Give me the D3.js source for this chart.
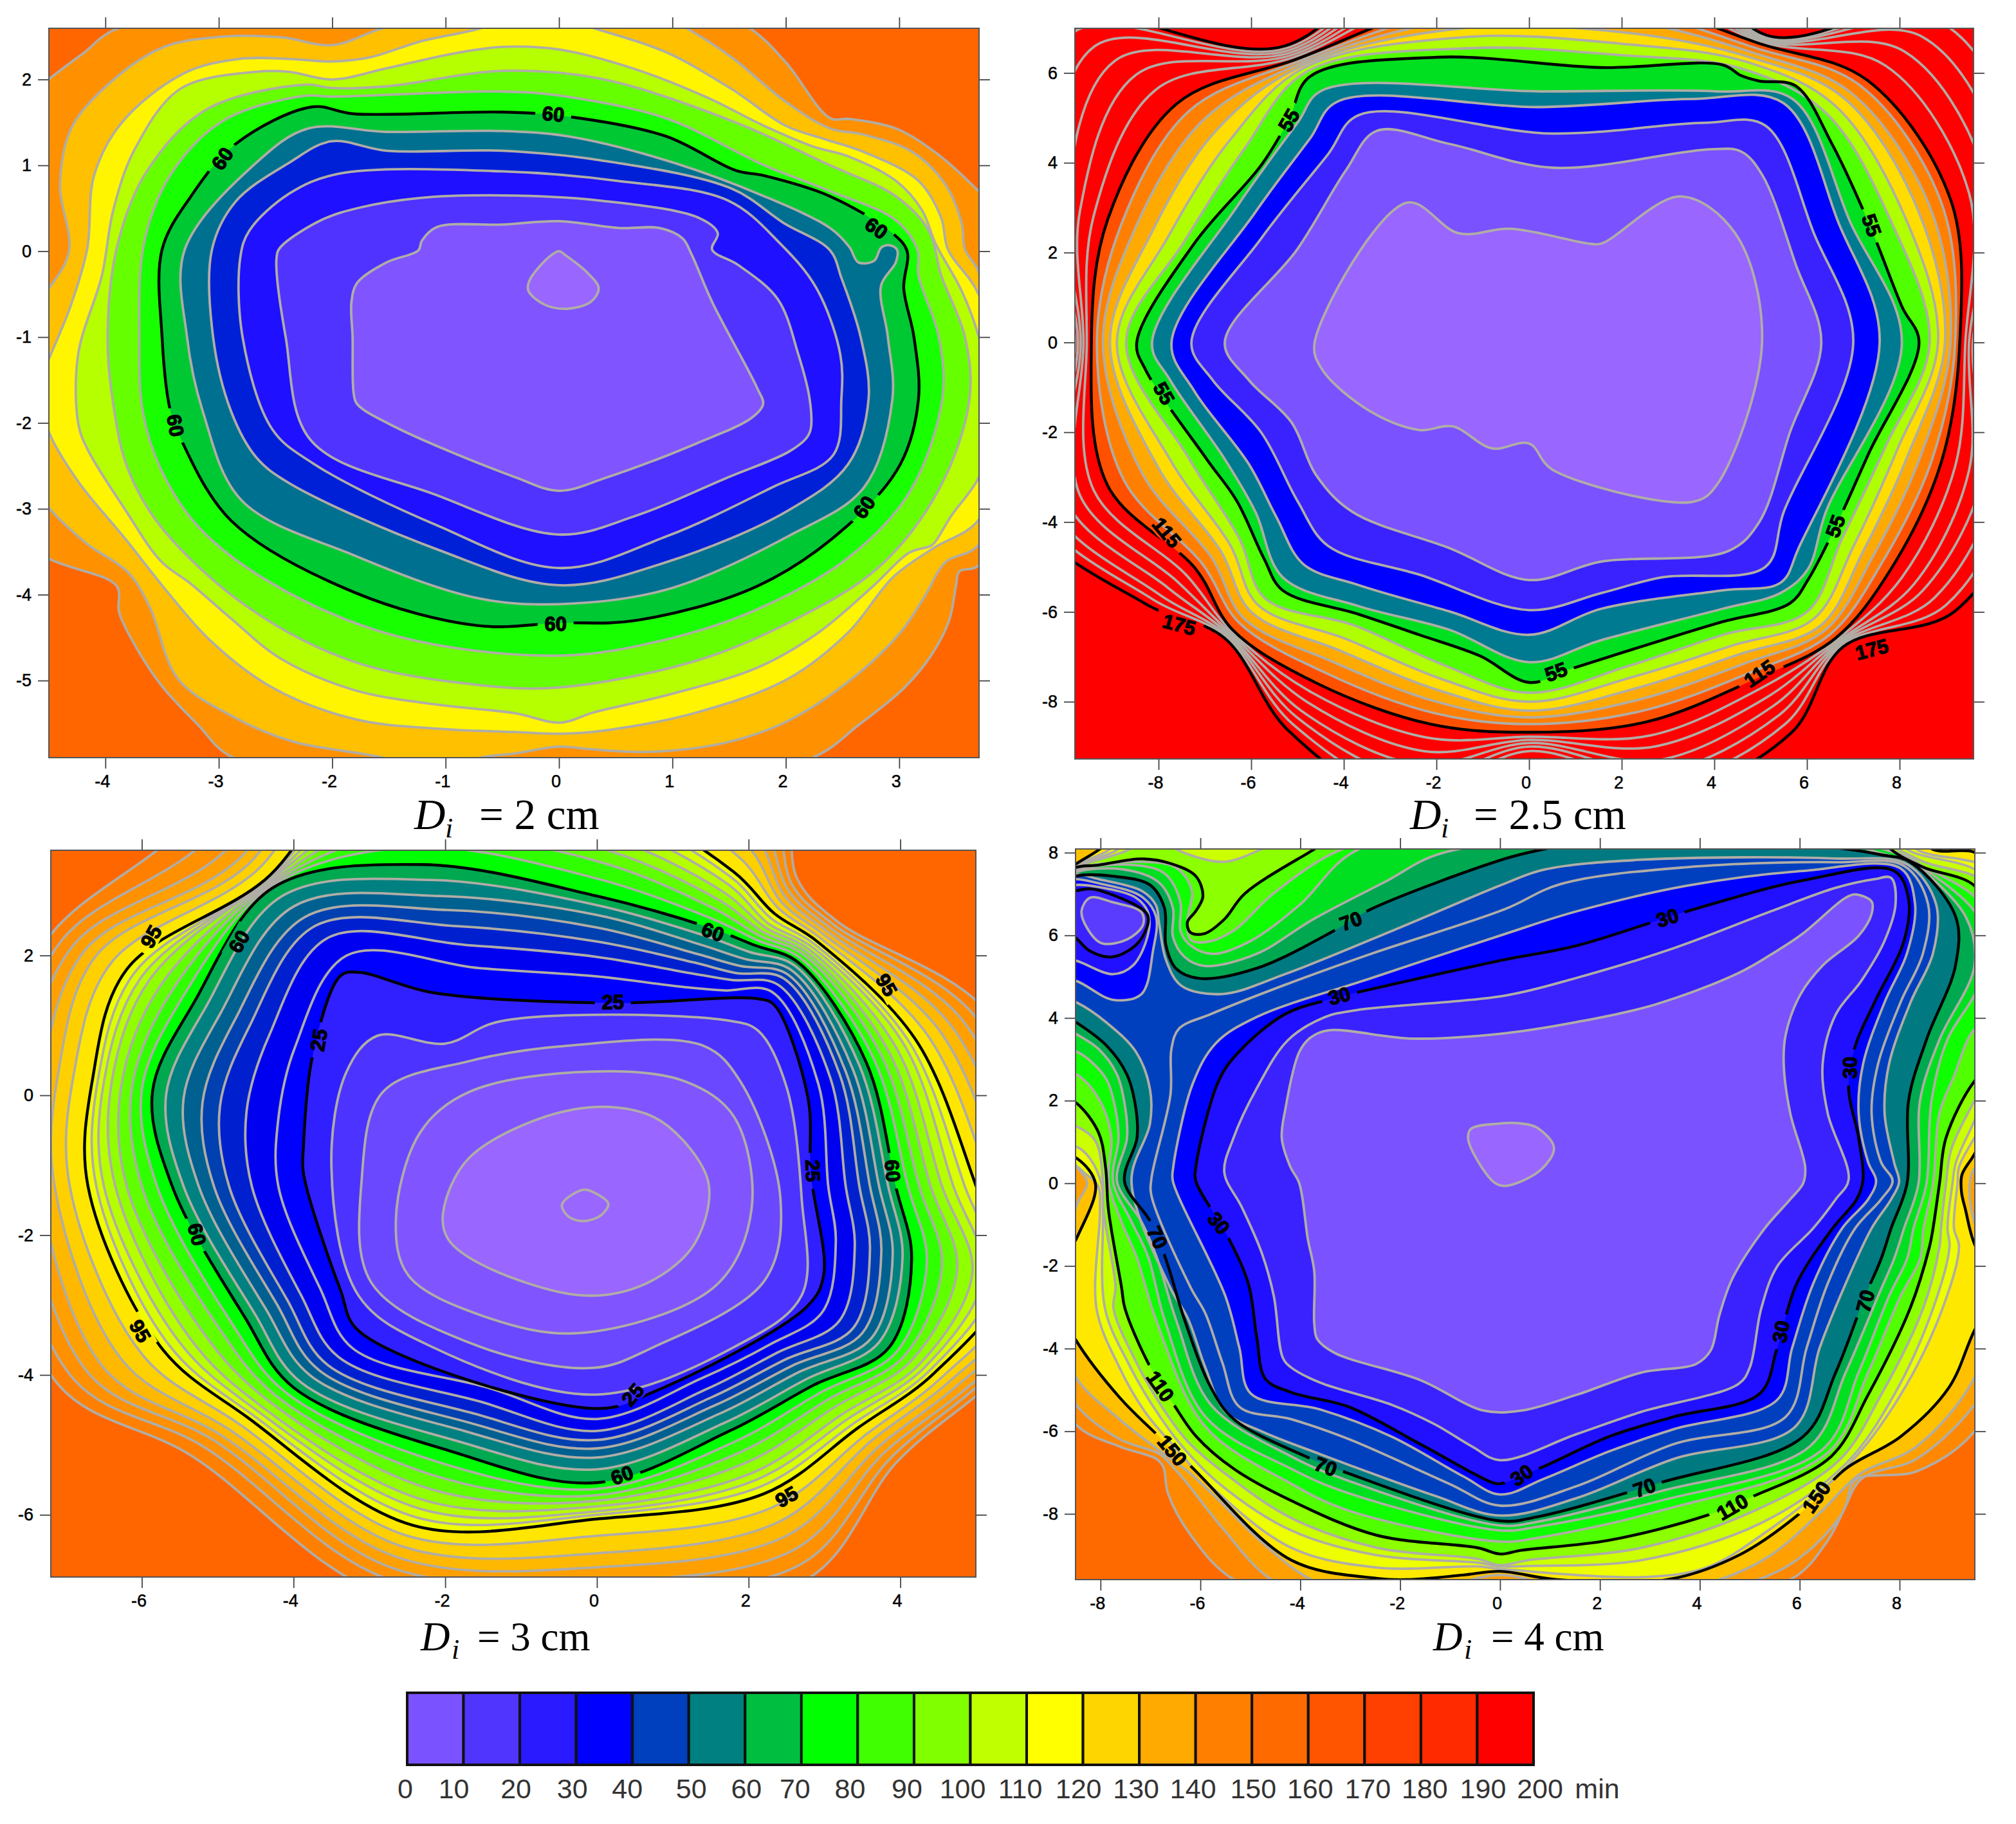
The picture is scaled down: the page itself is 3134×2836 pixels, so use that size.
<!DOCTYPE html>
<html>
<head>
<meta charset="utf-8">
<title>Isochrones</title>
<script src="https://cdn.jsdelivr.net/npm/d3@7"></script>
<style>
    body { margin: 0; background: #fff; }
    text { font-family: "Liberation Sans", Arial, sans-serif; }
</style>
</head>
<body>
<svg id="chart" width="3134" height="2836"></svg>
<script>
// Di = 2 cm
var levelsA = [120, 110, 100, 90, 80, 70, 60, 50, 40, 30, 20, 10, 5];
var contoursA = [
    [[1.68,2.6],[2,2.2],[2.39,1.55],[2.56,1.54],[2.97,1.43],[3.34,1.13],[3.7,.7],[4.2,0],[4.2,-2],[3.7,-3.66],[3.53,-3.73],[3.5,-3.9],[3.44,-4.3],[3.28,-4.71],[3.04,-5.09],[2.63,-5.53],[2.25,-5.89],[0,-6.6],[-2.87,-5.9],[-3.18,-5.52],[-3.51,-5.05],[-3.76,-4.54],[-3.88,-4.2],[-3.9,-3.9],[-4.5,-3.58],[-5.2,-3],[-5.5,-1],[-5.2,1.2],[-4.5,2],[-4.2,2.3],[-3.88,2.6],[-1,3],[1,3]],
    [[1.12,2.6],[1.52,2.26],[2,1.74],[2.39,1.43],[2.68,1.36],[3.11,1.16],[3.4,.79],[3.55,.33],[3.58,.02],[3.7,-.24],[4,-2],[3.7,-3.42],[3.41,-3.62],[3.22,-4.03],[3.01,-4.44],[2.63,-4.93],[2.02,-5.47],[1.48,-5.72],[.81,-5.83],[.28,-5.8],[0,-5.77],[-.39,-5.85],[-.7,-5.9],[-1.1,-6.1],[-1.55,-5.9],[-2.35,-5.71],[-2.89,-5.41],[-3.36,-4.98],[-3.61,-4.14],[-3.8,-3.74],[-4.16,-3.41],[-4.49,-3],[-4.9,-2.2],[-4.9,-1],[-4.48,-.4],[-4.32,.01],[-4.4,.79],[-4.29,1.46],[-3.89,2.04],[-3.48,2.38],[-2.96,2.5],[-2.44,2.49],[-2,2.4],[-1.57,2.59],[-.5,3],[.5,3]],
    [[.3,2.6],[.94,2.32],[1.52,1.89],[2,1.46],[2.33,1.31],[2.68,1.16],[3.17,.82],[3.37,.39],[3.43,.02],[3.7,-.5],[4,-2],[3.7,-3.13],[3.3,-3.46],[2.95,-3.79],[2.55,-4.44],[2.02,-4.98],[1.22,-5.37],[.41,-5.58],[0,-5.62],[-.39,-5.6],[-1.08,-5.56],[-1.8,-5.45],[-2.53,-5.08],[-3.07,-4.54],[-3.47,-3.94],[-3.83,-3.34],[-4.23,-2.7],[-4.49,-2.13],[-4.6,-1.6],[-4.48,-1.2],[-4.31,-.65],[-4.16,.03],[-4.1,.88],[-3.86,1.49],[-3.31,2.07],[-2.82,2.24],[-2.38,2.24],[-2,2.21],[-1.66,2.26],[-1.23,2.44],[-.71,2.59],[-.2,2.8]],
    [[-.5,2.38],[0,2.35],[.65,2.13],[1.29,1.8],[1.81,1.46],[2.24,1.22],[2.56,1.1],[2.97,.82],[3.2,.48],[3.32,.09],[3.55,-.46],[3.7,-.99],[3.85,-2],[3.7,-2.64],[3.46,-3.08],[3.32,-3.38],[3.28,-3.43],[3.09,-3.51],[2.77,-3.9],[2.29,-4.44],[1.75,-4.85],[.95,-5.17],[.31,-5.37],[.01,-5.49],[-.39,-5.38],[-1.08,-5.28],[-1.81,-5.11],[-2.46,-4.74],[-2.89,-4.28],[-3.25,-3.87],[-3.51,-3.61],[-3.83,-3],[-4.16,-2.3],[-4.24,-2],[-4.24,-1.2],[-4.03,-.28],[-3.93,.48],[-3.74,1.19],[-3.34,1.89],[-2.67,2.09],[-2.38,2.09],[-2,2],[-1.52,2.13],[-.94,2.3]],
    [[-.5,2.1],[.36,2.01],[1.52,1.52],[2.39,1],[2.97,.64],[3.26,.24],[3.37,-.28],[3.58,-1],[3.62,-1.72],[3.36,-2.75],[2.82,-3.68],[2.02,-4.33],[1.21,-4.77],[0,-5.08],[-.72,-5.05],[-1.81,-4.78],[-2.75,-4.14],[-3.51,-3.21],[-3.8,-2.54],[-3.92,-1.87],[-3.98,-1],[-3.89,.09],[-3.63,.94],[-3.11,1.65],[-2.24,1.94],[-2,1.9],[-1.52,1.92]],
    [[-.5,1.86],[.07,1.8],[.94,1.55],[1.81,1],[2.39,.7],[2.97,.36],[3.16,.02],[3.17,-.28],[3.35,-1],[3.38,-1.72],[3.09,-2.81],[2.55,-3.57],[1.75,-4.17],[.95,-4.52],[0,-4.71],[-1.44,-4.48],[-2.53,-3.87],[-3.18,-3.21],[-3.51,-2.54],[-3.67,-1.87],[-3.7,-1],[-3.66,.09],[-3.43,.88],[-2.96,1.52],[-2.24,1.81],[-2,1.8]],
    [[-.5,1.62],[.07,1.57],[.94,1.34],[1.56,.94],[1.81,.88],[2.39,.64],[2.94,.21],[3.07,0],[3.04,-.43],[3.13,-1],[3.17,-1.72],[3.01,-2.48],[2.55,-3.19],[1.75,-3.9],[.68,-4.3],[0,-4.33],[-.72,-4.36],[-1.81,-3.97],[-2.89,-3.14],[-3.34,-2.17],[-3.43,-1.84],[-3.5,-1],[-3.5,.02],[-3.25,.63],[-2.85,1.25],[-2.18,1.68],[-1.81,1.6]],
    [[-.5,1.4],[.07,1.34],[.94,1.06],[1.81,.64],[2.39,.27],[2.56,.05],[2.64,-.13],[2.78,-.11],[2.84,.04],[2.91,.07],[2.98,.02],[2.97,-.13],[2.84,-.4],[2.9,-1],[2.94,-1.72],[2.69,-2.75],[2.02,-3.32],[.95,-3.94],[0,-4.11],[-.72,-4.04],[-1.81,-3.54],[-2.8,-2.9],[-3.14,-1.87],[-3.28,-1],[-3.3,.02],[-2.67,1.03],[-2.21,1.43],[-1.52,1.39]],
    [[-.5,1.17],[.36,1.06],[1.52,.73],[1.98,.33],[2.39,.01],[2.49,-.31],[2.66,-1],[2.73,-1.72],[2.55,-2.48],[2.02,-3.02],[.95,-3.62],[0,-3.89],[-1.08,-3.47],[-2.38,-2.7],[-2.67,-2.4],[-2.89,-1.87],[-3.05,-1],[-3.06,.02],[-2.85,.58],[-2.38,1.03],[-2.01,1.28],[-1.52,1.17]],
    [[-.5,.93],[.51,.82],[1.49,.59],[1.95,.09],[2.27,-.43],[2.48,-1.2],[2.49,-1.72],[2.42,-2.37],[1.88,-2.75],[.95,-3.32],[0,-3.69],[-1.08,-3.19],[-2.17,-2.47],[-2.53,-2.07],[-2.79,-1],[-2.81,-.07],[-2.73,.24],[-2.38,.67],[-1.95,.9]],
    [[-.5,.65],[.36,.59],[1.23,.39],[1.4,.21],[1.35,.02],[1.58,-.16],[1.93,-.56],[2.11,-1.2],[2.21,-1.72],[2.22,-2.07],[2.18,-2.18],[2.02,-2.34],[1.48,-2.64],[.68,-3.08],[0,-3.3],[-1.08,-2.84],[-2.19,-2.2],[-2.41,-1],[-2.49,-.07],[-2.46,.04],[-2.1,.36],[-1.75,.51],[-1.23,.62]],
    [[-.5,.31],[0,.35],[.54,.27],[.89,.27],[1.09,.15],[1.17,-.04],[1.35,-.59],[1.75,-1.6],[1.8,-1.78],[1.7,-1.94],[1.21,-2.24],[.41,-2.64],[0,-2.79],[-.39,-2.63],[-1.44,-2.05],[-1.78,-1.78],[-1.81,-1.66],[-1.82,-1],[-1.83,-.59],[-1.78,-.37],[-1.52,-.13],[-1.24,.01],[-1.21,.12],[-1.08,.28]],
    [[0,0],[-.09,-.07],[-.26,-.34],[-.27,-.46],[-.13,-.62],[.07,-.67],[.28,-.59],[.35,-.43],[.25,-.25],[.06,-.05]]
];

// Di = 2.5 cm: the inner contours by hand, the outer ones along rays from the origin
var innerLevelsB = [55, 45, 35, 25, 15, 5];
var innerContoursB = [
    [[-8.47,0],[-8.28,-.61],[-6.96,-2.6],[-6.31,-3.53],[-5.72,-4.82],[-5.32,-5.52],[-3.69,-6.05],[-2.37,-6.51],[-1.06,-6.98],[0,-7.57],[.9,-7.27],[2.87,-6.63],[4.18,-6.22],[5.63,-5.81],[6.02,-5.29],[6.61,-4.12],[7.33,-2.48],[8.42,0],[8.05,.8],[7.33,2.67],[6.54,4.42],[5.76,5.71],[4.97,5.82],[4.58,5.94],[4.18,6.18],[1.56,6.12],[-1.98,6.35],[-4.73,5.92],[-5.19,4.95],[-5.78,3.95],[-7.23,2.2]],
    [[-8.14,0],[-7.75,-.84],[-6.57,-2.6],[-5.91,-3.77],[-5.32,-5.23],[-3.69,-5.87],[-1.72,-6.4],[0,-7.12],[1.56,-6.63],[4.18,-5.93],[5.43,-5.58],[6.02,-5.05],[6.41,-3.77],[8.05,0],[6.94,2.67],[5.69,5.42],[4.05,5.59],[.25,5.59],[-4.47,5.61],[-5,4.89],[-6.31,3.02]],
    [[-7.72,0],[-7.23,-1.08],[-6.05,-2.71],[-5.46,-3.88],[-4.87,-4.94],[-3.69,-5.4],[-1.72,-5.99],[0,-6.51],[1.56,-5.93],[4.18,-5.52],[5.43,-5.35],[5.82,-4.58],[7.57,0],[6.68,2.67],[5.49,5.33],[3.53,5.42],[.25,5.24],[-4.14,5.36],[-4.73,4.54],[-5.91,2.9]],
    [[-7.29,0],[-6.83,-.84],[-5.78,-2.01],[-5,-3.53],[-4.34,-4.53],[-2.37,-5.17],[0,-5.96],[1.56,-5.58],[2.87,-5.23],[5.1,-5],[5.5,-3.77],[7,0],[6.15,2.43],[5.1,4.83],[3.79,4.89],[.51,4.65],[-3.68,5.06],[-4.34,4.19],[-5.78,2.32]],
    [[-6.57,0],[-6.05,-.84],[-5.13,-1.78],[-4.6,-2.95],[-3.82,-3.77],[-1.72,-4.58],[0,-5.29],[1.56,-4.88],[4.31,-4.64],[4.97,-4],[5.63,-2.01],[6.31,0],[5.76,1.73],[5.04,3.72],[4.58,4.25],[3.92,4.3],[.51,3.89],[-1.72,4.42],[-3.29,4.71],[-3.95,3.84],[-5,2.08]],
    [[-4.63,0],[-4.47,-.6],[-3.42,-1.54],[-2.37,-1.95],[-1.65,-1.87],[-.8,-2.36],[0,-2.25],[.5,-2.83],[3.53,-3.55],[4.05,-3.18],[5.03,0],[4.45,2.43],[3.27,3.25],[1.56,2.2],[1.3,2.2],[-.4,2.53],[-1.52,2.43],[-2.64,3.11]]
];
var outerLevelsB = [65, 75, 85, 95, 105, 115, 125, 135, 145, 155, 165, 175];
var raysB = [[1,0],[1,.35],[1,.8],[.75,1],[.3,1],[-.2,1],[-.8,1],[-1,.7],[-1,.3],[-1,0],[-1,-.35],[-1,-.7],[-1,-1],[-.6,-1],[-.25,-1],[0,-1],[.3,-1],[.65,-1],[1,-1],[1,-.65],[1,-.3]];
var radiiB = [
    [8.65,8.83,8.98,9.1,9.2,9.3,9.42,9.5,9.58,9.65,9.72,9.8],
    [7.8,8.1,8.4,8.65,8.9,9.1,9.5,9.9,10.3,10.7,11.1,11.5],
    [6.4,6.6,6.8,6.95,7.15,7.3,7.7,8.1,8.5,8.9,9.3,9.7],
    [6.1,6.25,6.35,6.45,6.55,6.65,6.69,6.72,6.75,6.78,6.81,6.84],
    [6.4,6.65,6.9,7.15,7.35,7.55,7.9,8.2,8.5,8.8,9.1,9.4],
    [6.55,6.8,7,7.2,7.4,7.6,8,8.3,8.6,8.9,9.2,9.5],
    [6.02,6.1,6.15,6.2,6.25,6.3,6.35,6.4,6.45,6.5,6.55,6.6],
    [6.15,6.45,6.75,7.05,7.35,7.6,8.05,8.5,8.95,9.4,9.85,10.3],
    [7.45,7.8,8.15,8.5,8.8,9.1,9.4,9.7,10,10.3,10.6,10.9],
    [8.7,8.9,9.05,9.2,9.33,9.45,9.55,9.62,9.68,9.74,9.8,9.86],
    [7.35,7.7,8,8.35,8.75,9.1,9.4,9.7,10,10.3,10.55,10.8],
    [6.25,6.45,6.65,6.85,7.05,7.2,7.4,7.6,7.8,8,8.15,8.3],
    [5.7,5.85,6,6.15,6.25,6.4,6.43,6.46,6.49,6.52,6.55,6.58],
    [6.3,6.6,6.85,7.1,7.35,7.6,7.8,8,8.2,8.35,8.5,8.65],
    [7.2,7.5,7.75,8,8.25,8.5,8.8,9.1,9.4,9.7,10,10.3],
    [7.8,8,8.2,8.35,8.5,8.68,8.78,8.85,8.92,9,9.1,9.3],
    [7.2,7.45,7.7,7.95,8.2,8.45,8.75,9,9.3,9.55,9.8,10.05],
    [6.5,6.75,6.95,7.15,7.35,7.5,7.7,7.9,8.1,8.3,8.5,8.7],
    [6,6.15,6.3,6.4,6.5,6.6,6.63,6.66,6.69,6.72,6.75,6.78],
    [6.75,7,7.2,7.4,7.6,7.8,8.05,8.3,8.5,8.75,9,9.2],
    [7.7,7.95,8.2,8.45,8.7,8.9,9.2,9.5,9.8,10.1,10.4,10.7]
];

// Di = 3 cm: rays from (0, -1.3)
var outerLevelsC = [30, 35, 40, 45, 50, 55, 60, 65, 70, 75, 80, 85, 90, 95, 100, 105, 110, 115, 120, 125];
var raysC = [[1,0],[1,.5],[.83,1],[.6,1],[.4,1],[0,1],[-.5,1],[-1,1],[-1,.5],[-1,.23],[-1,0],[-1,-.4],[-1,-.72],[-.5,-1],[0,-1],[.5,-1],[1,-1],[1,-.6],[1,-.25]];
var radiiC = [
    [3.05,3.28,3.46,3.6,3.72,3.84,3.94,4.1,4.25,4.4,4.55,4.7,4.85,5,5.2,5.4,5.6,5.8,6,6.3],
    [2.92,3.08,3.2,3.28,3.37,3.46,3.55,3.65,3.75,3.85,3.95,4.05,4.12,4.2,4.35,4.5,4.65,4.8,4.95,5.1],
    [2.78,2.88,2.97,3.03,3.09,3.15,3.2,3.25,3.3,3.34,3.38,3.42,3.46,3.5,3.55,3.6,3.65,3.7,3.75,3.8],
    [2.8,2.95,3.05,3.15,3.25,3.35,3.45,3.52,3.58,3.64,3.7,3.76,3.83,3.9,3.98,4.06,4.14,4.22,4.3,4.4],
    [2.85,3.05,3.2,3.32,3.45,3.58,3.7,3.82,3.95,4.08,4.2,4.32,4.42,4.5,4.7,4.9,5.1,5.3,5.6,6],
    [3,3.28,3.5,3.7,3.88,4.02,4.15,4.4,4.65,4.85,5.05,5.25,5.45,5.6,5.9,6.2,6.5,6.8,7.1,7.4],
    [3.12,3.45,3.72,3.95,4.15,4.38,4.6,4.85,5.05,5.25,5.45,5.65,5.85,6,6.3,6.6,6.9,7.2,7.5,7.8],
    [3.3,3.55,3.72,3.85,4,4.15,4.27,4.29,4.31,4.33,4.35,4.36,4.37,4.38,4.5,4.6,4.7,4.85,5.05,5.3],
    [3.98,4.32,4.58,4.77,4.96,5.15,5.3,5.45,5.6,5.75,5.9,6,6.1,6.2,6.4,6.6,6.75,6.9,7.05,7.2],
    [4.2,4.62,4.97,5.2,5.45,5.68,5.86,6,6.13,6.27,6.4,6.5,6.58,6.65,6.9,7.1,7.3,7.5,7.7,8],
    [4.2,4.55,4.85,5.05,5.25,5.45,5.6,5.8,6,6.2,6.35,6.5,6.6,6.71,6.95,7.15,7.35,7.55,7.8,8],
    [3.65,3.9,4.08,4.22,4.37,4.52,4.65,4.83,5,5.2,5.38,5.52,5.65,5.75,6,6.25,6.5,6.7,6.9,7.1],
    [3.22,3.4,3.55,3.66,3.77,3.9,4,4.1,4.2,4.3,4.4,4.47,4.54,4.6,4.72,4.84,4.95,5.05,5.18,5.35],
    [2.88,3.08,3.25,3.38,3.5,3.65,3.8,3.98,4.16,4.34,4.5,4.62,4.74,4.85,5,5.15,5.3,5.45,5.6,5.8],
    [3.33,3.5,3.63,3.75,3.88,4.05,4.24,4.33,4.42,4.5,4.58,4.65,4.7,4.76,5,5.25,5.45,5.65,5.85,6.1],
    [2.75,2.9,3.02,3.13,3.25,3.38,3.5,3.65,3.8,3.95,4.1,4.2,4.3,4.4,4.6,4.8,5,5.2,5.4,5.6],
    [2.27,2.38,2.48,2.57,2.66,2.76,2.85,2.95,3.05,3.15,3.25,3.32,3.39,3.45,3.55,3.63,3.72,3.8,3.88,3.95],
    [2.98,3.2,3.38,3.5,3.62,3.72,3.85,3.95,4.05,4.15,4.25,4.32,4.39,4.45,4.55,4.65,4.75,4.85,4.92,5],
    [3.15,3.4,3.6,3.75,3.9,4.03,4.15,4.35,4.55,4.75,4.95,5.1,5.25,5.4,5.6,5.8,6,6.2,6.4,6.6]
];
var innerLevelsC = [25, 20, 15, 10, 5, 2];
var innerContoursC = [
    [[-3.87,-.75],[-3.75,.56],[-3.38,1.71],[-3.14,1.76],[-2.17,1.47],[.19,1.32],[2.13,1.38],[2.34,1.29],[2.78,-.02],[2.82,-1.11],[2.99,-2.57],[2.78,-3.01],[.75,-4.24],[-.02,-4.48],[-3.14,-3.37],[-3.38,-2.79],[-3.87,-1.11]],
    [[-3.5,-1.04],[-3.3,.34],[-2.9,.85],[-2,.74],[-1.27,1.06],[1.73,1.07],[2.13,.92],[2.5,.12],[2.7,-1.48],[2.7,-2.86],[1.81,-3.6],[-.02,-4.28],[-2.17,-3.6],[-3.14,-2.87]],
    [[-3.1,-1.19],[-2.82,.05],[-1.68,.49],[-.38,.71],[1.4,.71],[1.89,.2],[2.42,-1.48],[2.21,-2.65],[.75,-3.6],[-.06,-3.9],[-1.68,-3.54],[-2.98,-2.67]],
    [[-2.65,-1.77],[-2.33,-.53],[-1.68,.05],[-.06,.34],[1.16,.2],[1.81,-.31],[2.04,-1.62],[1.57,-2.72],[-.22,-3.4],[-1.52,-3.15],[-2.49,-2.57]],
    [[-2.03,-1.7],[-1.68,-.89],[-.3,-.2],[.75,-.31],[1.4,-1.04],[1.48,-1.48],[1.24,-2.2],[.59,-2.72],[-.22,-2.86],[-1.52,-2.42],[-1.96,-2.06]],
    [[-.46,-1.56],[-.18,-1.35],[-.02,-1.4],[.15,-1.55],[.06,-1.71],[-.18,-1.8],[-.38,-1.73]]
];

// Di = 4 cm
var levelsD = [180, 170, 160, 150, 140, 130, 120, 110, 100, 90, 80, 70, 60, 50, 50, 40, 40, 30, 30, 20, 20, 10, 5];
var contoursD = [
    [[9.5,-6],[8.34,-6.97],[7.11,-7.18],[6.92,-7.8],[6.53,-8.7],[5.81,-9.59],[2,-10.4],[-3,-10.4],[-5.33,-9.59],[-6.19,-8.52],[-6.65,-7.5],[-6.74,-6.87],[-6.88,-6.67],[-7.62,-6.37],[-8.49,-5.84],[-9.2,-4],[-9.2,8.6],[10.2,8.6],[10.2,-4]],
    [[9.5,-5.36],[8.34,-6.67],[7.24,-7.15],[6.79,-8.1],[6.07,-9],[5.16,-9.59],[2,-10.3],[-3,-10.3],[-4.58,-9.59],[-5.56,-8.34],[-6.3,-7.21],[-6.56,-6.85],[-6.82,-6.55],[-7.62,-6.19],[-8.49,-5.36],[-9.1,-4],[-9.1,8.5],[10.1,8.5],[10.1,-4]],
    [[9.5,-4.7],[8.34,-6.37],[7.21,-7.03],[6.4,-7.98],[5.42,-9],[4.39,-9.59],[2.5,-10],[1.2,-9.78],[0,-9.48],[-1.2,-9.78],[-2.6,-10],[-3.78,-9.59],[-4.76,-8.7],[-5.62,-7.68],[-6.25,-6.97],[-6.53,-6.73],[-7.62,-5.71],[-8.49,-4.7],[-9,-3],[-8.47,-.51],[-8.27,.01],[-8.47,.4],[-9,1.5],[-9,8.4],[10,8.4],[10,.5],[9.5,.35],[9.4,-.2],[9.5,-.95],[10,-2.5]],
    [[9.5,.71],[9.25,.21],[9.24,-.21],[9.32,-.64],[9.5,-1.47],[10,-2.5],[9.5,-3.56],[8.99,-4.94],[8.02,-6.13],[6.92,-6.91],[6.07,-7.92],[4.78,-9],[3.35,-9.59],[1.14,-9.59],[0,-9.39],[-.74,-9.48],[-1.88,-9.59],[-2.46,-9.56],[-4.18,-9.12],[-6.19,-6.85],[-6.88,-6.07],[-7.62,-5.18],[-8.49,-3.8],[-9,-2.5],[-8.47,-1.31],[-8.1,-.02],[-8.47,.6],[-9,.8],[-9,7.3],[-8.5,7.72],[-8.01,8.09],[-7.5,8.6],[8.2,8.6],[8.67,8.08],[9.5,8.01],[10,7.5],[10,2]],
    [[9.5,1.1],[9.19,.39],[9.16,0],[9.09,-1.09],[9.19,-1.53],[8.86,-3.03],[8.02,-5.12],[6.95,-6.85],[5.3,-8.46],[4.13,-9.3],[2.83,-9.53],[0,-9.33],[-.45,-9.27],[-2.46,-9.3],[-4.18,-8.82],[-5.79,-7.33],[-6.48,-6.43],[-7.11,-5.53],[-7.62,-4.46],[-8.08,-3.03],[-8.01,-.65],[-8.05,-.06],[-8.33,.26],[-8.47,.4],[-9,.5],[-9,7.3],[-8.5,7.7],[-7.81,8.09],[-7.5,8.6],[8,8.6],[8.34,8.08],[9.5,7.77],[10,7.5],[10,2]],
    [[9.5,1.52],[9.13,.51],[9.06,0],[8.96,-1.09],[9,-1.53],[8.67,-3.03],[7.89,-5.12],[6.92,-6.79],[5.23,-8.22],[2.83,-9.12],[.56,-9.26],[0,-9.27],[-.45,-9.18],[-2.46,-9],[-4.18,-8.4],[-5.62,-7.27],[-6.36,-6.37],[-6.94,-5.41],[-7.45,-4.34],[-7.91,-3.03],[-7.95,-.65],[-7.98,-.02],[-8.21,.6],[-8.47,.88],[-9,1],[-9,7.3],[-8.5,7.68],[-7.64,8.09],[-7.3,8.6],[7.8,8.6],[8.15,8.08],[9.5,7.6],[10,7],[10,3]],
    [[8.55,7.75],[9.5,7.44],[10,7],[10,3],[9.5,2],[9.03,.8],[8.93,0],[8.83,-1.09],[8.8,-1.53],[8.47,-3.03],[7.63,-5.12],[6.79,-6.7],[5.1,-7.92],[2.83,-8.82],[.56,-9.12],[0,-9.24],[-.45,-9.09],[-2.46,-8.82],[-4.18,-8.1],[-5.5,-7.03],[-6.25,-6.25],[-6.77,-5.41],[-7.28,-4.34],[-7.74,-3.03],[-7.7,-2.51],[-7.94,-.65],[-7.95,.05],[-8.1,1.02],[-8.47,1.37],[-9,1.5],[-9,7.3],[-8.5,7.65],[-7.41,8.09],[-7,8.5],[-6.49,8.09],[-6.15,7.92],[-5.52,7.78],[-4.77,8.09],[-4,8.6],[7,8.6],[7.96,8.08]],
    [[7.83,8.08],[8.47,7.65],[9.5,7.2],[10,6],[10,3],[9.5,2.47],[8.93,1.1],[8.8,0],[8.67,-1.09],[8.6,-1.53],[8.21,-3.03],[7.37,-5.12],[6.63,-6.61],[5.04,-7.59],[4.13,-8.04],[2.18,-8.64],[.43,-8.88],[0,-8.97],[-.45,-8.82],[-2.46,-8.52],[-4.18,-7.68],[-5.33,-6.91],[-6.08,-6.13],[-6.53,-5.36],[-7.05,-4.34],[-7.51,-3.03],[-7.58,-2.51],[-7.84,-.65],[-7.9,.4],[-8.04,1.23],[-8.47,1.93],[-8.9,2.2],[-8.9,7.3],[-8.5,7.64],[-8.04,7.7],[-7.18,7.85],[-6.6,7.74],[-6.09,7.43],[-5.95,6.94],[-6.09,6.59],[-6.26,6.32],[-6.2,6.07],[-5.92,6.04],[-5.52,6.39],[-5.11,7.01],[-3.71,8.09],[-3,8.6],[7.5,8.6]],
    [[8.41,7.71],[9.5,6.94],[10,6],[10,4],[9.5,3.72],[9.09,2.59],[8.8,1.7],[8.67,0],[8.48,-1.09],[8.41,-1.83],[8.02,-2.73],[7.37,-4.58],[6.56,-6.52],[3.22,-7.92],[.75,-8.58],[0,-8.67],[-3.03,-7.92],[-4.18,-7.27],[-5.9,-5.89],[-6.88,-3.33],[-7.28,-1.77],[-7.58,-.93],[-7.84,.05],[-7.78,1.09],[-7.93,1.79],[-8.21,2.35],[-8.47,2.63],[-8.8,2.8],[-8.8,7.3],[-8.49,7.6],[-7.29,7.78],[-6.49,7.64],[-6.17,7.08],[-6.26,6.38],[-6.2,5.9],[-5.92,5.83],[-5.34,6.11],[-4.54,7.01],[-3.15,8.09],[-1,8.6],[5,8.6],[7.76,8.08],[8.31,7.8]],
    [[8.34,7.74],[9.5,6.58],[9.8,5.5],[9.5,4.56],[8.96,3.48],[8.64,2],[8.54,0],[8.28,-1.09],[8.15,-1.83],[7.79,-2.73],[7.18,-4.58],[6.47,-6.43],[3.22,-7.68],[.75,-8.31],[0,-8.4],[-3.03,-7.5],[-4.18,-6.91],[-5.9,-5.65],[-6.71,-3.33],[-7.05,-1.77],[-7.38,-.93],[-7.75,.05],[-7.64,1.09],[-7.7,1.79],[-7.87,2.49],[-8.21,2.97],[-8.47,3.18],[-8.8,3.3],[-8.8,7.3],[-8.49,7.57],[-7.47,7.71],[-6.72,7.5],[-6.4,6.8],[-6.4,6.11],[-6.2,5.76],[-5.75,5.55],[-5,5.86],[-4.02,6.73],[-2.87,8.06],[0,8.6],[6,8.6],[7.7,8.08],[8.22,7.83]],
    [[8.28,7.74],[9.32,6.46],[9.5,5.27],[8.8,3.48],[8.41,2],[8.38,0],[8.09,-1.09],[7.89,-1.83],[7.57,-2.73],[6.92,-4.58],[6.2,-6.37],[3.22,-7.45],[.75,-8.19],[0,-8.28],[-3.03,-7.2],[-4.18,-6.61],[-5.79,-5.36],[-6.48,-3.33],[-6.88,-1.77],[-7.18,-.93],[-7.67,.05],[-7.47,1.09],[-7.5,1.79],[-7.67,2.63],[-8.04,3.25],[-8.47,3.6],[-8.8,3.8],[-8.8,7.3],[-8.49,7.53],[-7.58,7.6],[-6.84,7.29],[-6.55,6.66],[-6.55,5.97],[-6.32,5.48],[-5.92,5.26],[-4.88,5.55],[-3.74,6.39],[-2.31,7.29],[-1.16,7.99],[3,8.5],[6.5,8.5],[7.37,8.08],[8.09,7.83]],
    [[8.22,7.77],[9.12,6.46],[9.12,5.27],[8.54,3.48],[8.18,2],[8.15,0],[7.83,-1.09],[7.63,-1.83],[7.31,-2.73],[6.72,-4.58],[6.07,-6.13],[3.22,-7.24],[.75,-8.07],[0,-8.17],[-3.15,-6.97],[-3.89,-6.61],[-5.33,-5.71],[-5.79,-4.94],[-6.31,-3.33],[-6.71,-1.77],[-7,-.93],[-7.52,.05],[-7.27,1.09],[-7.29,1.79],[-7.47,2.63],[-7.87,3.32],[-8.47,3.88],[-8.8,4.1],[-8.8,7.2],[-8.49,7.43],[-7.75,7.43],[-7.01,7.22],[-6.72,6.66],[-6.69,5.76],[-6.49,5.2],[-6.03,4.96],[-4.88,5.2],[-3.28,6.14],[-2.59,6.63],[.09,7.85],[.82,8.07],[3,8.5],[6.85,8.1],[7.63,7.95]],
    [[8.15,7.72],[8.73,6.76],[8.67,5.57],[8.22,4.38],[7.79,2.89],[7.7,1.7],[7.89,.51],[7.99,.03],[7.83,-.39],[7.44,-1.09],[6.92,-2.43],[6.4,-3.98],[5.91,-5.89],[3.48,-6.67],[1.53,-7.62],[0,-8.04],[-1.31,-7.56],[-3.61,-6.55],[-4.76,-6.01],[-5.5,-5.53],[-5.9,-4.46],[-6.25,-3.27],[-6.61,-2.51],[-7.38,.05],[-7.01,1.44],[-7.01,2.28],[-7.29,3.18],[-7.87,3.88],[-8.47,4.37],[-8.8,4.5],[-8.8,7.3],[-8.49,7.47],[-8.04,7.36],[-7.18,7.08],[-6.89,6.73],[-6.83,6.32],[-6.69,5.41],[-6.38,4.78],[-5.57,4.58],[-4.31,5.06],[-2.02,6.18],[.09,7.25],[.88,7.59],[2.83,7.83],[6.72,7.86]],
    [[8.09,7.68],[8.57,6.76],[8.47,5.57],[8.02,4.38],[7.57,2.89],[7.44,1.7],[7.63,.51],[7.86,.06],[7.63,-.39],[7.11,-1.09],[6.56,-2.43],[6.14,-3.98],[5.72,-5.65],[3.48,-6.31],[1.53,-7.33],[0,-7.8],[-1.02,-7.27],[-3.03,-6.19],[-4.18,-5.71],[-5.22,-5.41],[-5.56,-4.34],[-5.9,-3.15],[-6.2,-2.51],[-6.98,-.3],[-6.98,.12],[-6.6,2.14],[-6.58,3.25],[-6.43,3.74],[-5.8,4.09],[-4.31,4.8],[-2.59,5.55],[.09,6.63],[1.21,7.24],[3.74,7.65],[6.72,7.77]],
    [[-8.47,4.89],[-7.75,4.44],[-7.18,4.58],[-6.95,5.62],[-6.89,6.46],[-7.18,6.94],[-8.04,7.26],[-8.49,7.36],[-8.9,7.3],[-8.9,5]],
    [[8.02,7.62],[8.31,6.76],[8.15,5.57],[7.7,4.38],[7.27,2.89],[7.18,1.7],[7.37,.51],[7.53,.06],[7.37,-.39],[6.85,-1.09],[6.27,-2.43],[5.85,-3.98],[5.55,-5.24],[3.48,-5.95],[2.18,-6.49],[.88,-7.15],[0,-7.53],[-.74,-7.09],[-2.17,-6.13],[-3.61,-5.47],[-4.99,-5.09],[-5.22,-3.98],[-5.5,-2.73],[-6.55,.05],[-6.55,.33],[-6.15,2.42],[-5.69,3.39],[-4.88,4.02],[-2.59,4.96],[.09,6.03],[1.53,6.58],[3.74,7.2],[6.07,7.56]],
    [[-8.47,5.38],[-7.75,5.06],[-7.35,5.27],[-7.06,5.97],[-7.04,6.53],[-7.29,6.91],[-8.04,7.17],[-8.49,7.22],[-8.9,7.1],[-8.9,5.5]],
    [[7.89,7.56],[8.18,6.88],[8.09,5.87],[7.5,4.38],[7.11,3.31],[6.98,2.29],[7.18,1.1],[7.27,.09],[7.14,-.39],[6.66,-1.09],[5.94,-2.43],[5.55,-3.98],[5.2,-5.09],[3.48,-5.65],[2.18,-6.13],[.88,-6.85],[0,-7.27],[-.16,-7.24],[-1.6,-6.31],[-3.03,-5.41],[-4.18,-5.06],[-4.7,-4.73],[-4.87,-3.74],[-5.04,-2.43],[-5.46,-1.27],[-6.09,.05],[-6.09,.4],[-5.63,2.49],[-5.23,3.18],[-4.31,4.09],[-3.45,4.44],[-2.02,4.85],[.09,5.41],[1.53,5.75],[3.74,6.58],[6.07,7.33]],
    [[-8.49,7.08],[-8.15,7.12],[-7.12,6.59],[-7.04,6.39],[-7.24,5.83],[-7.75,5.48],[-8.21,5.62],[-8.49,5.93],[-8.9,6.3],[-8.9,7]],
    [[7.83,7.39],[7.92,6.76],[7.7,5.87],[7.24,4.91],[6.72,4.08],[6.46,2.89],[6.56,1.7],[6.98,.09],[6.72,-.39],[6.27,-1.09],[5.55,-2.01],[5.23,-3.03],[5,-4.46],[4.78,-4.85],[2.83,-5.53],[1.53,-6.07],[0,-6.7],[-.56,-6.37],[-1.31,-5.83],[-2.17,-5.36],[-3.61,-4.82],[-4.18,-4.46],[-4.35,-4.22],[-4.53,-2.73],[-4.77,-1.69],[-5.17,-.58],[-5.52,.26],[-5.34,1.09],[-4.88,2.28],[-4.25,3.46],[-3.51,4.02],[-2.88,4.19],[.09,4.54],[1.53,4.97],[3.48,5.69],[5.42,6.58],[6.72,7.15],[7.5,7.36]],
    [[-8.38,6.59],[-8.21,6.91],[-7.75,6.8],[-7.18,6.56],[-7.15,6.25],[-7.47,5.9],[-7.98,5.81],[-8.27,6.18]],
    [[6.92,6.91],[7.11,6.99],[7.44,6.82],[7.44,6.52],[7.18,5.99],[6.46,5.27],[6.01,4.56],[5.72,3.6],[5.68,2.89],[5.81,1.7],[6.11,.39],[6.07,0],[5.81,-.39],[5.3,-1.09],[4.65,-2.31],[4.39,-3.2],[4.22,-4.04],[3.93,-4.37],[2.83,-4.58],[1.53,-5.12],[.43,-5.5],[-.33,-5.5],[-1.6,-4.76],[-3.32,-4.1],[-3.66,-3.77],[-3.72,-3.39],[-3.72,-2.13],[-3.85,-1.34],[-4.02,0],[-4.2,.4],[-4.37,1.09],[-4.3,1.79],[-4.02,3.18],[-3.79,3.53],[-3.45,3.7],[-1.73,3.5],[.09,3.63],[1.53,3.9],[3.09,4.32],[4.78,5.09],[5.55,5.63],[6.07,6.05],[6.72,6.73]],
    [[-.64,1.09],[-.58,1.32],[-.07,1.44],[.4,1.45],[.75,1.34],[1.08,.86],[.82,.33],[.14,-.06],[-.09,0],[-.4,.45]]
];

// contour labels: text, x, y, rotation
var labelsA = [[60,-2.97,1.08,-55],[60,-.05,1.6,5],[60,2.8,.27,35],[60,-3.38,-2.03,80],[60,-.03,-4.34,0],[60,2.69,-2.98,-55]];
var labelsB = [[55,-5.19,4.95,-60],[55,7.4,2.61,70],[55,6.61,-4.09,-70],[55,.58,-7.33,-20],[55,-7.88,-1.13,60],[115,-7.82,-4.23,50],[115,4.97,-7.37,-35],[175,-7.55,-6.28,15],[175,7.4,-6.83,-15]];
var labelsC = [[95,-5.88,2.27,-60],[60,-4.72,2.2,-60],[60,1.53,2.34,20],[95,3.82,1.58,60],[25,.21,1.34,0],[25,-3.67,.79,-80],[25,2.85,-1.08,88],[60,3.9,-1.08,85],[60,-5.27,-1.99,75],[95,-6.02,-3.37,60],[25,.47,-4.28,-50],[60,.33,-5.43,-20],[95,2.5,-5.74,-30]];
var labelsD = [[70,-2.99,6.35,-20],[30,-3.22,4.54,-15],[30,-5.63,-.96,50],[70,-6.86,-1.31,65],[30,3.35,6.43,-17],[30,7.01,2.8,-90],[70,7.31,-2.85,-75],[30,5.62,-3.59,-80],[30,.43,-7.06,-35],[70,2.89,-7.36,-20],[110,4.65,-7.83,-30],[150,6.33,-7.59,-55],[110,-6.8,-4.91,55],[150,-6.56,-6.46,50],[70,-3.49,-6.85,20]];

// tick values
var xTicksA = [-4, -3, -2, -1, 0, 1, 2, 3];
var yTicksA = [-5, -4, -3, -2, -1, 0, 1, 2];
var xTicksB = [-8, -6, -4, -2, 0, 2, 4, 6, 8];
var yTicksB = [-8, -6, -4, -2, 0, 2, 4, 6];
var xTicksC = [-6, -4, -2, 0, 2, 4];
var yTicksC = [-6, -4, -2, 0, 2];
var xTicksD = [-8, -6, -4, -2, 0, 2, 4, 6, 8];
var yTicksD = [-8, -6, -4, -2, 0, 2, 4, 6, 8];

// colour bar
var legendValues = d3.range(0, 201, 10);
var legendColors = ['#7a52ff', '#5035ff', '#2a1aff', '#0000ff', '#0040bf', '#008080', '#00bf40', '#00ff00', '#40ff00', '#80ff00', '#bfff00', '#ffff00', '#ffd500', '#ffaa00', '#ff8000', '#ff6a00', '#ff5500', '#ff4000', '#ff2a00', '#ff0000'];
var legendNudge = [-3, -15, -6, -6, -8, 4, 2, -10, -12, -11, -12, -10, -7, -5, -4, 2, 3, 5, 6, 9, 10];

// band colours, outermost first: [background, then inside each contour]
var bandsA = ['#ff6600', '#ff9000', '#ffc000', '#fff500', '#b5ff00', '#66ff00', '#18ff00', '#00c833', '#007090', '#0020d8', '#1f10ff', '#5033ff', '#8055ff', '#9966ff'];
var outerBandsB = ['#ff0000', '#ff0000', '#ff0000', '#ff0000', '#ff0000', '#ff0000', '#ff0000', '#ff5000', '#ff8000', '#ffaa00', '#ffdd00', '#b0ff00', '#50ff00'];
var innerBandsB = ['#00e020', '#007a90', '#0000ff', '#3a22ff', '#7a52ff', '#9966ff'];
var outerBandsC = ['#ff6600', '#ff8000', '#ff9000', '#ffa000', '#ffb800', '#ffd000', '#ffe600', '#f0ff00', '#d8ff00', '#b5ff00', '#90ff00', '#60ff00', '#30ff00', '#00ff00', '#00a850', '#008080', '#006090', '#0040b0', '#0020d0', '#0000f0', '#0000ff'];
var innerBandsC = ['#3020ff', '#4d33ff', '#6a48ff', '#8055ff', '#9966ff', '#9966ff'];
var bandsD = ['#ff6a00', '#ff8800', '#ffa000', '#ffc000', '#ffe800', '#eeff00', '#ccff00', '#8cff00', '#50ff00', '#10ff00', '#00e020', '#00a850', '#007a80', '#0040bf', '#0040bf', '#0000ff', '#0000ff', '#2010ff', '#2010ff', '#3a22ff', '#3a22ff', '#5a3cff', '#7a52ff', '#9966ff'];

var titles = [
    { rest: '= 2 cm', d: 644, i: 689, eq: 745, y: 1289, size: 67 },
    { rest: '= 2.5 cm', d: 2192, i: 2237, eq: 2291, y: 1289, size: 67 },
    { rest: '= 3 cm', d: 654, i: 699, eq: 742, y: 2566, size: 63 },
    { rest: '= 4 cm', d: 2228, i: 2273, eq: 2318, y: 2566, size: 63 }
];

var svg = d3.select('#chart');
var outline = d3.line().curve(d3.curveCatmullRomClosed.alpha(0.5));

function fromRays(center, rays, radii, count) {
    // radii has one row per ray, one column per contour
    return d3.range(count).map(function(k) {
        return rays.map(function(r, i) {
            return [center[0] + r[0] * radii[i][k], center[1] + r[1] * radii[i][k]];
        });
    });
}

function drawPanel(id, box, domain, xTicks, yTicks, bg, contours, levels, colors, blacks, labels) {
    var x = d3.scaleLinear().domain(domain.x).range([box.x0, box.x1]);
    var y = d3.scaleLinear().domain(domain.y).range([box.y0, box.y1]);
    var path = function(pts) {
        return outline(pts.map(function(p) { return [x(p[0]), y(p[1])]; }));
    };

    var defs = svg.append('defs');
    defs.append('clipPath').attr('id', 'clip-' + id)
        .append('rect')
        .attr('x', box.x0).attr('y', box.y0)
        .attr('width', box.x1 - box.x0).attr('height', box.y1 - box.y0);

    var mask = defs.append('mask').attr('id', 'gap-' + id)
        .attr('maskUnits', 'userSpaceOnUse')
        .attr('x', box.x0).attr('y', box.y0)
        .attr('width', box.x1 - box.x0).attr('height', box.y1 - box.y0);
    mask.append('rect')
        .attr('x', box.x0).attr('y', box.y0)
        .attr('width', box.x1 - box.x0).attr('height', box.y1 - box.y0)
        .attr('fill', '#fff');
    mask.selectAll('rect.gap')
        .data(labels)
        .enter().append('rect')
        .attr('class', 'gap')
        .attr('x', function(d) { return -String(d[0]).length * 9 - 10; })
        .attr('y', -15)
        .attr('width', function(d) { return String(d[0]).length * 18 + 20; })
        .attr('height', 30)
        .attr('fill', '#000')
        .attr('transform', function(d) { return 'translate(' + x(d[1]) + ',' + y(d[2]) + ') rotate(' + d[3] + ')'; });

    var plot = svg.append('g').attr('clip-path', 'url(#clip-' + id + ')');
    plot.append('rect')
        .attr('x', box.x0).attr('y', box.y0)
        .attr('width', box.x1 - box.x0).attr('height', box.y1 - box.y0)
        .attr('fill', bg);

    plot.append('g').selectAll('path')
        .data(contours)
        .enter().append('path')
        .attr('d', path)
        .attr('fill', function(d, i) { return colors[i]; });

    plot.append('g').selectAll('path')
        .data(contours.filter(function(d, i) { return blacks.indexOf(levels[i]) < 0; }))
        .enter().append('path')
        .attr('d', path)
        .attr('fill', 'none')
        .attr('stroke', '#b0ada6')
        .attr('stroke-width', 3.8);

    plot.append('g').attr('mask', 'url(#gap-' + id + ')').selectAll('path')
        .data(contours.filter(function(d, i) { return blacks.indexOf(levels[i]) >= 0; }))
        .enter().append('path')
        .attr('d', path)
        .attr('fill', 'none')
        .attr('stroke', '#000')
        .attr('stroke-width', 4.4);

    plot.append('g').selectAll('text')
        .data(labels)
        .enter().append('text')
        .attr('transform', function(d) { return 'translate(' + x(d[1]) + ',' + y(d[2]) + ') rotate(' + d[3] + ')'; })
        .attr('text-anchor', 'middle')
        .attr('dy', '0.36em')
        .attr('font-size', 31)
        .attr('font-weight', 'bold')
        .attr('stroke', '#000')
        .attr('stroke-width', 1.3)
        .text(function(d) { return d[0]; });

    // axes: ticks on all four sides, labels on the left and bottom only
    var addAxis = function(axis, tx, ty, showLabels) {
        var g = svg.append('g')
            .attr('transform', 'translate(' + tx + ',' + ty + ')')
            .call(axis.tickSize(17).tickPadding(10).tickFormat(function(d) { return showLabels ? String(d) : ''; }));
        g.select('.domain').remove();
        g.selectAll('line').attr('stroke', '#444').attr('stroke-width', 1.8);
        g.selectAll('text')
            .attr('fill', '#000')
            .attr('font-size', 27)
            .attr('stroke', '#000')
            .attr('stroke-width', 0.5)
            .attr('dx', tx === 0 ? -5 : 0)
            .style('font-family', '"Liberation Sans", Arial, sans-serif');
    };
    addAxis(d3.axisBottom(x).tickValues(xTicks), 0, box.y1, true);
    addAxis(d3.axisTop(x).tickValues(xTicks), 0, box.y0, false);
    addAxis(d3.axisLeft(y).tickValues(yTicks), box.x0, 0, true);
    addAxis(d3.axisRight(y).tickValues(yTicks), box.x1, 0, false);

    svg.append('rect')
        .attr('x', box.x0).attr('y', box.y0)
        .attr('width', box.x1 - box.x0).attr('height', box.y1 - box.y0)
        .attr('fill', 'none')
        .attr('stroke', '#555')
        .attr('stroke-width', 2);
}

// panels
drawPanel('a', { x0: 76, x1: 1522, y0: 44, y1: 1178 }, { x: [-4.498, 3.704], y: [2.596, -5.898] },
    xTicksA, yTicksA, bandsA[0], contoursA, levelsA, bandsA.slice(1), [60], labelsA);

var outerB = fromRays([0, 0], raysB, radiiB, outerLevelsB.length).reverse();
drawPanel('b', { x0: 1671, x1: 3068, y0: 44, y1: 1180 }, { x: [-9.806, 9.597], y: [6.994, -9.274] },
    xTicksB, yTicksB, outerBandsB[0], outerB.concat(innerContoursB), outerLevelsB.slice().reverse().concat(innerLevelsB),
    outerBandsB.slice(1).concat(innerBandsB), [55, 115, 175], labelsB);

var outerC = fromRays([0, -1.3], raysC, radiiC, outerLevelsC.length).reverse();
drawPanel('c', { x0: 79, x1: 1517, y0: 1322, y1: 2452 }, { x: [-7.2, 4.996], y: [3.505, -6.89] },
    xTicksC, yTicksC, outerBandsC[0], outerC.concat(innerContoursC), outerLevelsC.slice().reverse().concat(innerLevelsC),
    outerBandsC.slice(1).concat(innerBandsC), [25, 60, 95], labelsC);

drawPanel('d', { x0: 1672, x1: 3070, y0: 1320, y1: 2456 }, { x: [-8.5, 9.507], y: [8.09, -9.59] },
    xTicksD, yTicksD, bandsD[0], contoursD, levelsD, bandsD.slice(1), [30, 70, 110, 150], labelsD);

// titles
titles.forEach(function(t) {
    var g = svg.append('g').attr('fill', '#000');
    g.append('text').attr('x', t.d).attr('y', t.y).attr('font-size', t.size).attr('font-style', 'italic')
        .style('font-family', '"Liberation Serif", serif').text('D');
    g.append('text').attr('x', t.i + 3).attr('y', t.y + 13).attr('font-size', 44).attr('font-style', 'italic')
        .style('font-family', '"Liberation Serif", serif').text('i');
    g.append('text').attr('x', t.eq).attr('y', t.y).attr('font-size', t.size)
        .style('font-family', '"Liberation Serif", serif').text(t.rest);
});

// colour bar
var legendX = d3.scaleLinear().domain([0, 200]).range([633, 2384]);
svg.append('g').selectAll('rect')
    .data(legendColors)
    .enter().append('rect')
    .attr('x', function(d, i) { return legendX(legendValues[i]); })
    .attr('y', 2632)
    .attr('width', function(d, i) { return legendX(legendValues[i + 1]) - legendX(legendValues[i]); })
    .attr('height', 112)
    .attr('fill', function(d) { return d; })
    .attr('stroke', '#111')
    .attr('stroke-width', 4);

svg.append('g').selectAll('text')
    .data(legendValues)
    .enter().append('text')
    .attr('x', function(d, i) { return legendX(d) + legendNudge[i]; })
    .attr('y', 2796)
    .attr('text-anchor', 'middle')
    .attr('font-size', 43)
    .attr('fill', '#333')
    .text(function(d) { return d; });

svg.append('text')
    .attr('x', 2483)
    .attr('y', 2796)
    .attr('text-anchor', 'middle')
    .attr('font-size', 43)
    .attr('fill', '#333')
    .text('min');
</script>
</body>
</html>
